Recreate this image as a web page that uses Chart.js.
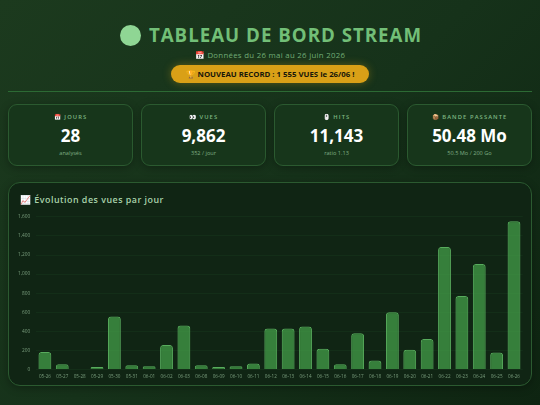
<!DOCTYPE html>
<html lang="fr"><head><meta charset="utf-8">
<script src="https://cdn.jsdelivr.net/npm/chart.js@4/dist/chart.umd.min.js"></script>
<style>
*{box-sizing:border-box;margin:0;padding:0}
html,body{width:540px;height:405px;overflow:hidden}
body{position:relative;font-family:"Open Sans","Noto Sans",sans-serif;background:linear-gradient(135deg,#1c3a1e 0%,#16321a 50%,#0e2411 100%)}
.abs{position:absolute}
#title{left:1px;width:540px;top:21px;text-align:center;font-size:18.7px;line-height:27px;font-weight:700;letter-spacing:1px;color:#72bf77;white-space:nowrap}
#title i{display:inline-block;width:21px;height:21px;border-radius:50%;background:#8fd694;vertical-align:-4px;margin-right:8px}
#sub{left:0;width:540px;top:49px;text-align:center;font-size:7.8px;line-height:13px;letter-spacing:.3px;color:#72ad76}
#badge{left:171px;top:65px;width:198px;height:18px;border-radius:9px;background:#d9a017;box-shadow:0 0 8px rgba(230,170,20,.35);text-align:center;font-size:7.8px;line-height:18px;font-weight:700;color:#17170a;white-space:nowrap}
#rule{left:8px;top:90.5px;width:524px;height:1.5px;background:#2c6a34}
.card{top:104px;width:125px;height:62px;border:1px solid #2b5a30;border-radius:9px;background:#17361b;box-shadow:0 2px 8px rgba(0,0,0,.3);text-align:center}
.card .l{position:absolute;left:0;right:0;top:8px;font-size:5.8px;line-height:9px;font-weight:600;letter-spacing:1.1px;color:#7eb682}
.card .v{position:absolute;left:0;right:0;top:19px;font-size:17px;line-height:24px;font-weight:700;color:#fff}
.card .s{position:absolute;left:0;right:0;top:44px;font-size:5.6px;line-height:9px;color:#7fae83}
#panel{left:8px;top:182px;width:524px;height:204px;border:1px solid #2b5a30;border-radius:12px;background:#102514;box-shadow:0 2px 8px rgba(0,0,0,.3)}
#ctitle{left:20px;top:192px;font-size:8.9px;line-height:15px;font-weight:600;letter-spacing:.5px;color:#a9d3ab;white-space:nowrap}
#wrap{left:12px;top:208px;width:512px;height:175px}
</style></head><body>
<div id="title" class="abs"><i></i>TABLEAU DE BORD STREAM</div>
<div id="sub" class="abs">📅 Données du 26 mai au 26 juin 2026</div>
<div id="badge" class="abs">🏆 NOUVEAU RECORD : 1 555 VUES le 26/06 !</div>
<div id="rule" class="abs"></div>
<div class="card abs" style="left:8px"><div class="l">📅 JOURS</div><div class="v">28</div><div class="s">analysés</div></div>
<div class="card abs" style="left:141px"><div class="l">👀 VUES</div><div class="v">9,862</div><div class="s">352 / jour</div></div>
<div class="card abs" style="left:274px"><div class="l">🖱️ HITS</div><div class="v">11,143</div><div class="s">ratio 1.13</div></div>
<div class="card abs" style="left:407px"><div class="l">📦 BANDE PASSANTE</div><div class="v">50.48 Mo</div><div class="s">50.5 Mo / 200 Go</div></div>
<div id="panel" class="abs"></div>
<div id="ctitle" class="abs">📈 Évolution des vues par jour</div>
<div id="wrap" class="abs"><canvas id="c"></canvas></div>
<script>
const categories=["05-26","05-27","05-28","05-29","05-30","05-31","06-01","06-02","06-03","06-08","06-09","06-10","06-11","06-12","06-13","06-14","06-15","06-16","06-17","06-18","06-19","06-20","06-21","06-22","06-23","06-24","06-25","06-26"];
const views=[184,55,5,25,556,45,35,257,462,45,25,35,63,430,430,450,218,55,380,95,600,208,320,1285,770,1105,178,1555];
const yTickStep=200;
const yMax=1600;
new Chart(document.getElementById('c'),{type:'bar',
 data:{labels:categories,datasets:[{data:views,backgroundColor:'rgba(76,175,80,.65)',borderColor:'#58ac5d',borderWidth:1,borderRadius:3,borderSkipped:'bottom',barPercentage:.74,categoryPercentage:1}]},
 options:{responsive:true,maintainAspectRatio:false,animation:false,
  plugins:{legend:{display:false},tooltip:{enabled:false}},
  scales:{
   x:{grid:{display:false,drawTicks:false},border:{display:false},ticks:{color:'#7a9e7e',font:{size:4.6,family:'Open Sans'},maxRotation:0,autoSkip:false,padding:4}},
   y:{min:0,max:yMax,grid:{color:'rgba(76,175,80,.07)',drawTicks:false},border:{display:false},ticks:{stepSize:yTickStep,color:'#7a9e7e',font:{size:4.8,family:'Open Sans'},padding:6,callback:v=>v.toLocaleString('en-US')}}
  }}});
</script>
</body></html>
